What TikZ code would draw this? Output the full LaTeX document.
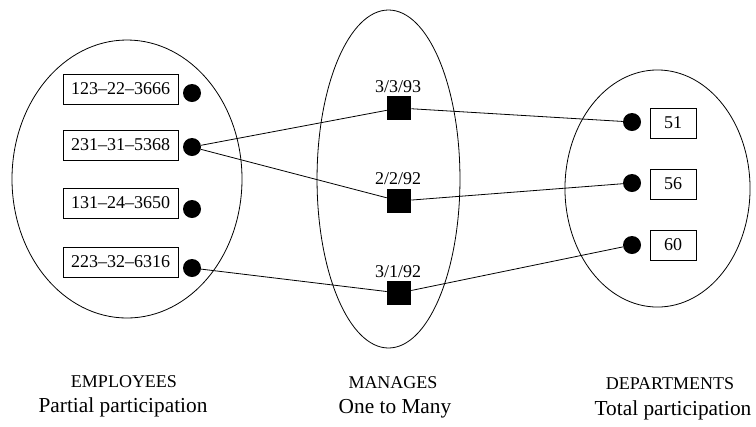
\documentclass[tikz,border=0pt]{standalone}
\usepackage{fontspec}
\setmainfont{Liberation Serif}
\begin{document}
\begin{tikzpicture}[x=0.75pt,y=-0.75pt,
  setbox/.style={draw, line width=0.6pt, minimum height=22.5pt, inner sep=0pt, font=\fontsize{13.5}{16}\selectfont},
  empbox/.style={setbox, minimum width=86.25pt},
  depbox/.style={setbox, minimum width=34.5pt},
  entdot/.style={circle, fill=black, minimum size=13.5pt, inner sep=0pt},
  relsq/.style={rectangle, fill=black, minimum size=18pt, inner sep=0pt},
  datelbl/.style={font=\fontsize{13.5}{16}\selectfont, anchor=base, inner sep=0pt},
  captext/.style={font=\fontsize{13.5}{16}\selectfont, anchor=base, inner sep=0pt},
  desctext/.style={font=\fontsize{16}{19}\selectfont, anchor=base, inner sep=0pt},
  link/.style={line width=0.6pt},
  setellipse/.style={line width=0.6pt}]
\useasboundingbox (0,0) rectangle (756,426);

% sets
\draw[setellipse] (127,179) ellipse [x radius=86.25pt, y radius=104.25pt];
\draw[setellipse] (388.5,179) ellipse [x radius=53.6pt, y radius=126.75pt];
\draw[setellipse] (657.5,188.5) ellipse [x radius=69.4pt, y radius=88.9pt];

% employees
\node[empbox] (e1) at (120.5,89) {123--22--3666};
\node[empbox] (e2) at (120.5,145) {231--31--5368};
\node[empbox] (e3) at (120.5,203) {131--24--3650};
\node[empbox] (e4) at (120.5,262) {223--32--6316};
\node[entdot] (d1) at (192,93) {};
\node[entdot] (d2) at (192,147) {};
\node[entdot] (d3) at (192,209) {};
\node[entdot] (d4) at (192,268) {};

% relationship instances
\node[relsq] (r1) at (399,108) {};
\node[relsq] (r2) at (399,201) {};
\node[relsq] (r3) at (399,293) {};
\node[datelbl] (l1) at (398,92) {3/3/93};
\node[datelbl] (l2) at (398,184) {2/2/92};
\node[datelbl] (l3) at (398,277) {3/1/92};

% departments
\node[depbox] (p1) at (673,123) {51};
\node[depbox] (p2) at (673,184) {56};
\node[depbox] (p3) at (673,245) {60};
\node[entdot] (q1) at (632,122) {};
\node[entdot] (q2) at (632,183) {};
\node[entdot] (q3) at (632,245) {};

% connectors
\draw[link] (d2) -- (r1);
\draw[link] (d2) -- (r2);
\draw[link] (d4) -- (r3);
\draw[link] (r1) -- (q1);
\draw[link] (r2) -- (q2);
\draw[link] (r3) -- (q3);

% captions
\node[captext] (c1) at (124,387) {EMPLOYEES};
\node[desctext] (c1b) at (123,412) {Partial participation};
\node[captext] (c2) at (393,388) {MANAGES};
\node[desctext] (c2b) at (395,413) {One to Many};
\node[captext] (c3) at (670,389) {DEPARTMENTS};
\node[desctext] (c3b) at (673,415) {Total participation};
\end{tikzpicture}
\end{document}
